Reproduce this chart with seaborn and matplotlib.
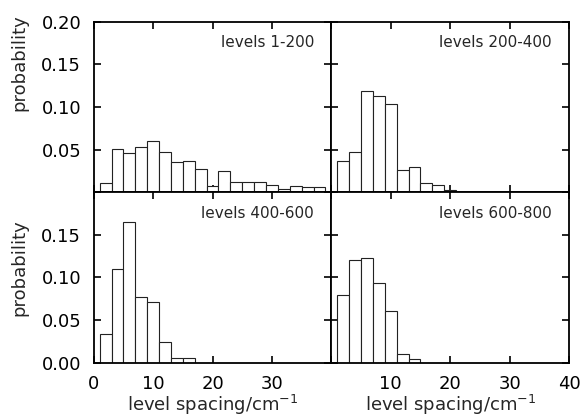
import numpy as np
import pandas as pd
import matplotlib
matplotlib.use('Agg')
import matplotlib.pyplot as plt
import seaborn as sns

# --- data: probability per 2 cm^-1 bin, bins start at 1 cm^-1 ---
bin_width = 2
bin_start = 1
panel_labels = ['levels 1-200', 'levels 200-400', 'levels 400-600', 'levels 600-800']
prob_1_200 = [0.011, 0.051, 0.046, 0.053, 0.060, 0.047, 0.035, 0.037, 0.027, 0.007,
              0.025, 0.012, 0.012, 0.012, 0.009, 0.004, 0.007, 0.006, 0.006]
prob_200_400 = [0.037, 0.047, 0.119, 0.113, 0.103, 0.026, 0.029, 0.011, 0.009, 0.002]
prob_400_600 = [0.034, 0.110, 0.165, 0.077, 0.071, 0.024, 0.006, 0.005]
prob_600_800 = [0.079, 0.120, 0.123, 0.094, 0.061, 0.010, 0.004]
x_ticks = [0, 10, 20, 30, 40]
y_ticks = [0.00, 0.05, 0.10, 0.15, 0.20]

sns.set_style('ticks')
plt.rcParams['font.family'] = ['DejaVu Sans']
plt.rcParams['axes.linewidth'] = 1.3

fig, axes = plt.subplots(2, 2, figsize=(5.81, 4.19), dpi=100)
fig.subplots_adjust(left=0.1613, right=0.9793, top=0.9482, bottom=0.1344, wspace=0, hspace=0)

all_probs = [prob_1_200, prob_200_400, prob_400_600, prob_600_800]
for ax, probs, label in zip(axes.flat, all_probs, panel_labels):
    n = len(probs)
    edges = [bin_start + bin_width * i for i in range(n + 1)]
    df = pd.DataFrame({'spacing': [e + bin_width / 2 for e in edges[:-1]],
                       'prob': probs})
    sns.histplot(data=df, x='spacing', weights='prob', bins=edges, ax=ax,
                 color='white', edgecolor='#222222', linewidth=0.8, alpha=1)
    ax.set_xlim(0, 40)
    ax.set_ylim(0, 0.20)
    ax.set_xticks(x_ticks)
    ax.set_yticks(y_ticks)
    ax.tick_params(direction='in', length=5, width=1.2, top=True, right=True,
                   labelsize=13, pad=9, colors='black')
    ax.set_xlabel('')
    ax.set_ylabel('')
    ax.text(1 - 17 / 236, 1 - 21 / 170, label, transform=ax.transAxes,
            ha='right', va='center', fontsize=11)
    for s in ax.spines.values():
        s.set_color('black')

# tick labels: drop the ones that would collide at the shared edges
axes[0, 0].set_yticklabels(['', '0.05', '0.10', '0.15', '0.20'])
axes[1, 0].set_yticklabels(['0.00', '0.05', '0.10', '0.15', ''])
axes[1, 0].set_xticklabels(['0', '10', '20', '30', ''])
axes[1, 1].set_xticklabels(['', '10', '20', '30', '40'])
for ax in axes[0]:
    ax.tick_params(labelbottom=False)
for ax in axes[:, 1]:
    ax.tick_params(labelleft=False)

axes[0, 0].set_ylabel('probability', fontsize=13)
axes[0, 0].yaxis.set_label_coords(-0.275, 0.76)
axes[1, 0].set_ylabel('probability', fontsize=13)
axes[1, 0].yaxis.set_label_coords(-0.275, 0.56)
axes[1, 0].set_xlabel('level spacing/cm$^{-1}$', fontsize=13, labelpad=0)
axes[1, 1].set_xlabel('level spacing/cm$^{-1}$', fontsize=13, labelpad=0)

fig.savefig('out.png', dpi=100)
